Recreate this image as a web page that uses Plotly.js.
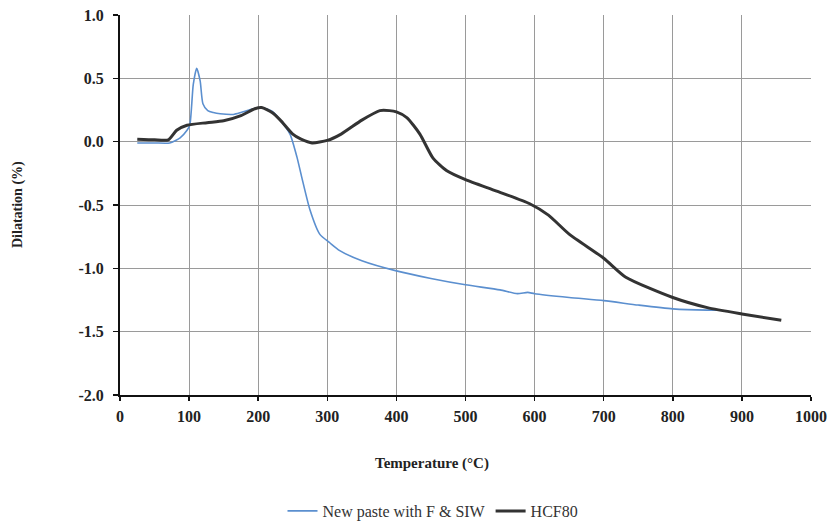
<!DOCTYPE html>
<html>
<head>
<meta charset="utf-8">
<script src="https://cdn.plot.ly/plotly-3.0.1.min.js"></script>
<style>html,body{margin:0;padding:0;background:#fff;}#chart{width:830px;height:521px;}</style>
</head>
<body>
<div id="chart"></div>
<script>
// New paste with F & SIW
const tempBlue = [25, 50, 72, 87, 97, 101, 106, 111, 116, 120, 127, 135, 145, 164, 175, 190, 205, 220, 232, 246, 256, 263, 275, 289, 304, 318, 350, 400, 450, 500, 550, 575, 590, 600, 650, 700, 750, 800, 850, 865];
const dilBlue  = [-0.01, -0.01, -0.01, 0.03, 0.09, 0.13, 0.45, 0.58, 0.48, 0.30, 0.245, 0.23, 0.22, 0.215, 0.23, 0.255, 0.27, 0.24, 0.17, 0.06, -0.12, -0.28, -0.54, -0.73, -0.80, -0.86, -0.94, -1.02, -1.08, -1.13, -1.17, -1.20, -1.19, -1.20, -1.23, -1.255, -1.29, -1.32, -1.33, -1.33];

// HCF80
const tempBlack = [25, 50, 70, 82, 97, 126, 150, 175, 195, 205, 220, 232, 250, 262, 278, 300, 320, 350, 376, 390, 400, 415, 434, 453, 473, 500, 545, 593, 620, 650, 700, 732, 800, 850, 900, 957];
const dilBlack  = [0.02, 0.015, 0.015, 0.09, 0.13, 0.15, 0.165, 0.205, 0.26, 0.27, 0.23, 0.17, 0.06, 0.02, -0.01, 0.01, 0.06, 0.17, 0.245, 0.245, 0.235, 0.19, 0.06, -0.13, -0.23, -0.30, -0.39, -0.49, -0.58, -0.73, -0.92, -1.07, -1.23, -1.31, -1.36, -1.41];

const xTicks = [0, 100, 200, 300, 400, 500, 600, 700, 800, 900, 1000];
const yTicks = [-2.0, -1.5, -1.0, -0.5, 0.0, 0.5, 1.0];
const yTickText = ["-2.0", "-1.5", "-1.0", "-0.5", "0.0", "0.5", "1.0"];
const seriesNames = ["New paste with F & SIW", "HCF80"];

const serif = "'Liberation Serif', 'Times New Roman', serif";

const traces = [
  {x: tempBlue, y: dilBlue, name: seriesNames[0], mode: "lines",
   line: {color: "#5b8fcf", width: 1.6, shape: "spline", smoothing: 0.6}},
  {x: tempBlack, y: dilBlack, name: seriesNames[1], mode: "lines",
   line: {color: "#333333", width: 3, shape: "spline", smoothing: 0.6}}
];

const layout = {
  width: 830, height: 521,
  margin: {l: 120, r: 19, t: 15, b: 126, autoexpand: false},
  paper_bgcolor: "#fff", plot_bgcolor: "#fff",
  showlegend: true,
  legend: {orientation: "h", xref: "paper", x: (433-120)/691, xanchor: "center",
           yref: "container", y: (521-511)/521, yanchor: "middle",
           font: {family: serif, size: 16, color: "#333"}, itemwidth: 30},
  xaxis: {range: [0, 1000], tickvals: xTicks, ticktext: xTicks.map(String),
          showgrid: true, gridcolor: "#9a9a9a", gridwidth: 1,
          showline: true, linecolor: "#111", linewidth: 2,
          ticks: "outside", ticklen: 4, tickcolor: "#111", tickwidth: 1.5,
          ticklabelstandoff: 2, zeroline: false, fixedrange: true,
          tickfont: {family: serif, size: 16, color: "#222", weight: "bold"}},
  yaxis: {range: [-2, 1], tickvals: yTicks, ticktext: yTickText,
          showgrid: true, gridcolor: "#9a9a9a", gridwidth: 1,
          showline: true, linecolor: "#111", linewidth: 2,
          ticks: "outside", ticklen: 5, tickcolor: "#111", tickwidth: 1.5,
          ticklabelstandoff: 6, zeroline: false, fixedrange: true,
          tickfont: {family: serif, size: 16, color: "#222", weight: "bold"}},
  annotations: [
    {text: "<b>Temperature (°C)</b>", xref: "paper", yref: "paper", x: (432-120)/691, y: -(463-395)/380,
     xanchor: "center", yanchor: "middle", showarrow: false, font: {family: serif, size: 15, color: "#222"}},
    {text: "<b>Dilatation (%)</b>", xref: "paper", yref: "paper", x: -(120-18)/691, y: 0.5, textangle: -90,
     xanchor: "center", yanchor: "middle", showarrow: false, font: {family: serif, size: 14, color: "#222"}}
  ]
};

Plotly.newPlot("chart", traces, layout, {displayModeBar: false, staticPlot: true});
</script>
</body>
</html>
